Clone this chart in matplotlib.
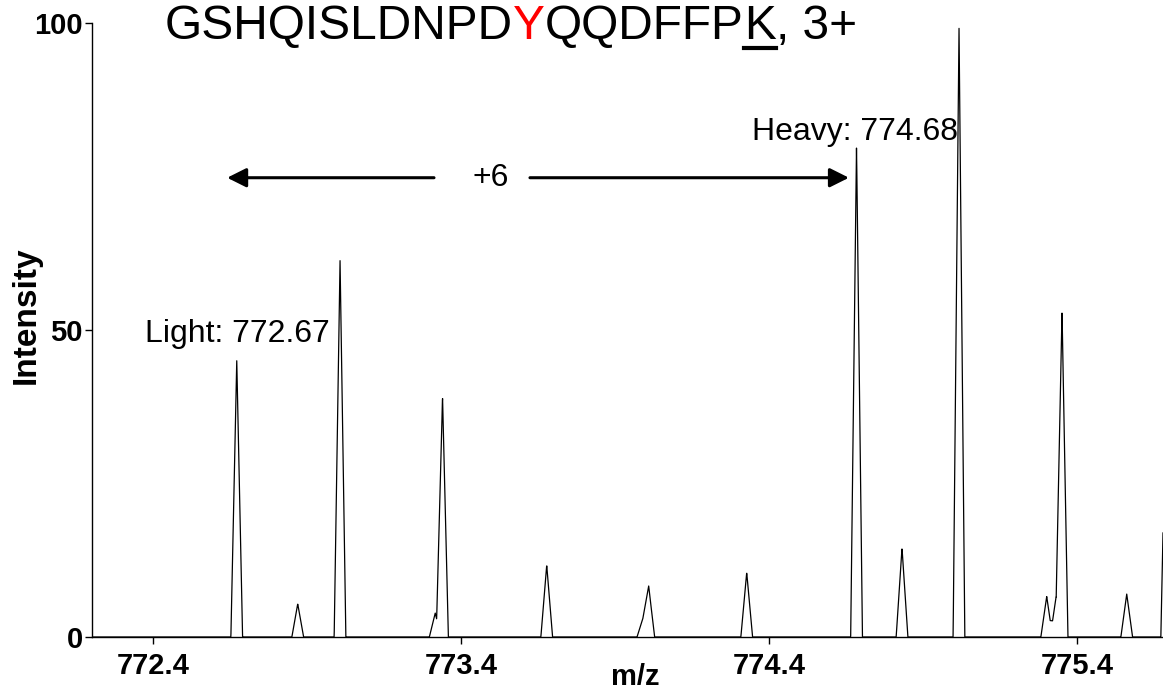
import numpy as np
import matplotlib
matplotlib.use('Agg')
import matplotlib.pyplot as plt
from matplotlib.lines import Line2D

plt.rcParams['font.family'] = ['Liberation Sans', 'DejaVu Sans']

# centroid list of the isotope clusters (m/z, relative intensity)
peak_mz = [772.6726, 772.8705, 773.0077, 773.3166, 773.3403, 773.6784,
           773.9904, 774.0093, 774.3273, 774.6836, 774.8312, 775.0160,
           775.3007, 775.3310, 775.3504, 775.5603, 775.6900]
peak_int = [45.2, 5.4, 61.7, 3.9, 39.2, 11.7,
            3.0, 8.3, 10.5, 80.0, 14.5, 100.0,
            6.6, 6.5, 53.0, 7.0, 46.0]

xticks = [772.4, 773.4, 774.4, 775.4]
yticks = [0, 50, 100]

light_mz, light_int = 772.67, 45.2
heavy_mz, heavy_int = 774.68, 80.0

title_parts = [("GSHQISLDNPD", "black"), ("Y", "red"), ("QQDFFP", "black"),
               ("K", "black"), (", 3+", "black")]

XMIN, XMAX = 772.203, 775.678
HALF_WIDTH = 0.019   # peak half width at base

# profile spectrum built from the centroid list (triangular line shape)
mz = np.linspace(XMIN, XMAX, 7000)
inten = np.zeros_like(mz)
for c, h in zip(peak_mz, peak_int):
    inten += h * np.clip(1 - np.abs(mz - c) / HALF_WIDTH, 0, None)

fig = plt.figure(figsize=(11.63, 6.90), dpi=100)
ax = fig.add_axes([92 / 1163, 1 - 637 / 690, (1163 - 92) / 1163, (637 - 23) / 690])

ax.plot(mz, inten, color='black', lw=0.9)

ax.set_xlim(XMIN, XMAX)
ax.set_ylim(0, 100)
ax.set_xticks(xticks)
ax.set_xticklabels([f"{t:.1f}" for t in xticks])
ax.set_yticks(yticks)
ax.tick_params(axis='both', length=5, width=1, labelsize=21, pad=1.5)
ax.tick_params(axis='x', pad=6)
for lab in ax.get_xticklabels() + ax.get_yticklabels():
    lab.set_fontweight('bold')
for s in ['top', 'right']:
    ax.spines[s].set_visible(False)
for s in ['left', 'bottom']:
    ax.spines[s].set_linewidth(1)

ax.set_xlabel("m/z", fontsize=21, fontweight='bold')
ax.xaxis.set_label_coords((635 - 92) / 1071, -0.042)
ax.set_ylabel("Intensity", fontsize=24, fontweight='bold')
ax.yaxis.set_label_coords(-0.047, 0.524)

# peak labels
ax.text(772.975, 48.0, f"Light: {light_mz:.2f}", fontsize=23, ha='right', va='baseline')
ax.text(775.013, 80.9, f"Heavy: {heavy_mz:.2f}", fontsize=23, ha='right', va='baseline')

# +6 mass shift arrows
arrow = dict(arrowstyle='-|>', lw=2.2, color='black', mutation_scale=29,
             shrinkA=0, shrinkB=0)
ax.annotate('', xy=(772.6415, 74.8), xytext=(773.3127, 74.8), arrowprops=arrow)
ax.annotate('', xy=(774.659, 74.8), xytext=(773.624, 74.8), arrowprops=arrow)
ax.text(773.495, 74.8, "+6", fontsize=23, ha='center', va='center')

# peptide sequence title, modified residue in red and labelled lysine underlined
fig.canvas.draw()
renderer = fig.canvas.get_renderer()
x = 165
ybase = 690 - 39
for seg, col in title_parts:
    t = fig.text(x / 1163, ybase / 690, seg, color=col, fontsize=34.5,
                 ha='left', va='baseline')
    bb = t.get_window_extent(renderer)
    if seg == "K":
        fig.add_artist(Line2D([bb.x0 / 1163, bb.x1 / 1163],
                              [(ybase - 9) / 690, (ybase - 9) / 690],
                              color='black', lw=3, transform=fig.transFigure))
    x = bb.x1

fig.savefig('out.png', dpi=100)
